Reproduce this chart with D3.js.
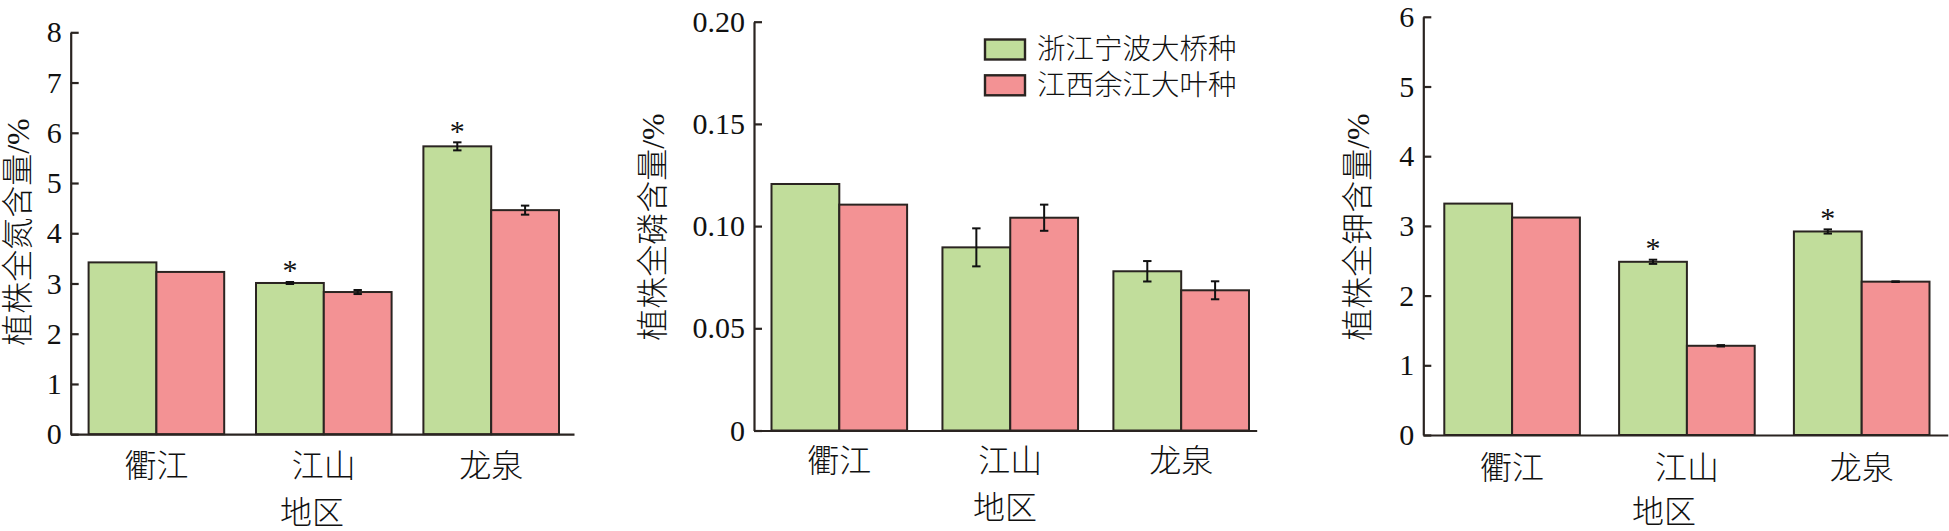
<!DOCTYPE html>
<html>
<head>
<meta charset="utf-8">
<script src="https://cdn.jsdelivr.net/npm/d3@7"></script>
<style>
  body { margin: 0; background: #fff; }
  svg { display: block; font-family: "Liberation Serif", "Noto Sans CJK SC", serif; }
  .cjk { font-weight: 300; }
</style>
</head>
<body>
<svg id="chart" width="1949" height="531"></svg>
<script>
const regions = ["衢江", "江山", "龙泉"];
const seriesNames = ["浙江宁波大桥种", "江西余江大叶种"];
const seriesColors = ["#c1dd9b", "#f39294"];

// values per series, in region order
const nitrogenValues = [[3.42, 3.01, 5.73], [3.23, 2.83, 4.46]];
const nitrogenErrors = [[0, 0.02, 0.08], [0, 0.04, 0.09]];
const nitrogenStars = [[false, true, true], [false, false, false]];
const nitrogenTicks = [0, 1, 2, 3, 4, 5, 6, 7, 8];

const phosphorusValues = [[0.1206, 0.0896, 0.0779], [0.1105, 0.1041, 0.0686]];
const phosphorusErrors = [[0, 0.0093, 0.005], [0, 0.0064, 0.0044]];
const phosphorusStars = [[false, false, false], [false, false, false]];
const phosphorusTicks = [0, 0.05, 0.10, 0.15, 0.20];

const potassiumValues = [[3.32, 2.485, 2.92], [3.12, 1.28, 2.20]];
const potassiumErrors = [[0, 0.03, 0.03], [0, 0.01, 0.005]];
const potassiumStars = [[false, true, true], [false, false, false]];
const potassiumTicks = [0, 1, 2, 3, 4, 5, 6];

const INK = "#2a2421";
const svg = d3.select("#chart");

const panels = [
  {
    values: nitrogenValues, errors: nitrogenErrors, stars: nitrogenStars, ticks: nitrogenTicks,
    yLabel: "植株全氮含量/%", fmt: (d) => d3.format("d")(d),
    x0: 70.7, x1: 574, barL: 88.6, barR: 559, y0: 434.2, y1: 32.3,
    yLabelPos: [17.5, 232], xTitlePos: [312, 513], tickLabelOffset: 28.5, legend: false
  },
  {
    values: phosphorusValues, errors: phosphorusErrors, stars: phosphorusStars, ticks: phosphorusTicks,
    yLabel: "植株全磷含量/%", fmt: (d) => (d === 0 ? "0" : d3.format(".2f")(d)),
    x0: 754, x1: 1256.7, barL: 771.5, barR: 1249, y0: 430.5, y1: 21.7,
    yLabelPos: [653, 227], xTitlePos: [1005, 508], tickLabelOffset: 27.7, legend: true
  },
  {
    values: potassiumValues, errors: potassiumErrors, stars: potassiumStars, ticks: potassiumTicks,
    yLabel: "植株全钾含量/%", fmt: (d) => d3.format("d")(d),
    x0: 1423.3, x1: 1947.8, barL: 1444.3, barR: 1929.5, y0: 435, y1: 16.8,
    yLabelPos: [1358, 227], xTitlePos: [1664, 512], tickLabelOffset: 30, legend: false
  }
];

panels.forEach(drawPanel);

function makeBand(p) {
  // group width of two bars (about 68px each)
  const groupW = 135.6;
  const span = p.barR - p.barL;
  const gap = (span - regions.length * groupW) / (regions.length - 1);
  const step = groupW + gap;
  const outer = (p.x1 - p.x0) - span;
  return d3.scaleBand()
    .domain(regions)
    .range([p.x0, p.x1])
    .paddingInner(gap / step)
    .paddingOuter(outer / 2 / step)
    .align((p.barL - p.x0) / outer);
}

function drawPanel(p) {
  const x = makeBand(p);
  const xs = d3.scaleBand().domain(seriesNames).range([0, x.bandwidth()]);
  const maxTick = d3.max(p.ticks);
  const y = d3.scaleLinear().domain([0, maxTick]).range([p.y0, p.y1]);

  const g = svg.append("g");

  const rows = [];
  seriesNames.forEach((s, si) => {
    regions.forEach((r, ri) => {
      rows.push({ series: s, si, region: r, value: p.values[si][ri], err: p.errors[si][ri], star: p.stars[si][ri] });
    });
  });

  g.selectAll(".bar")
    .data(rows)
    .join("rect")
    .attr("class", "bar")
    .attr("x", (d) => x(d.region) + xs(d.series))
    .attr("y", (d) => y(d.value))
    .attr("width", xs.bandwidth())
    .attr("height", (d) => y(0) - y(d.value))
    .attr("fill", (d) => seriesColors[d.si])
    .attr("stroke", INK)
    .attr("stroke-width", 2);

  const withErr = rows.filter((d) => d.err > 0);
  const cx = (d) => x(d.region) + xs(d.series) + xs.bandwidth() / 2;
  const eb = g.selectAll(".err").data(withErr).join("g").attr("class", "err")
    .attr("stroke", "#111").attr("stroke-width", 2);
  eb.append("line").attr("x1", cx).attr("x2", cx)
    .attr("y1", (d) => y(d.value + d.err)).attr("y2", (d) => y(d.value - d.err));
  eb.append("line").attr("x1", (d) => cx(d) - 4.2).attr("x2", (d) => cx(d) + 4.2)
    .attr("y1", (d) => y(d.value + d.err)).attr("y2", (d) => y(d.value + d.err));
  eb.append("line").attr("x1", (d) => cx(d) - 4.2).attr("x2", (d) => cx(d) + 4.2)
    .attr("y1", (d) => y(d.value - d.err)).attr("y2", (d) => y(d.value - d.err));

  g.selectAll(".star")
    .data(rows.filter((d) => d.star))
    .join("text")
    .attr("class", "star")
    .attr("x", cx)
    .attr("y", (d) => y(d.value + d.err) - 1.5)
    .attr("text-anchor", "middle")
    .attr("font-size", 30)
    .attr("fill", "#111")
    .text("*");

  // y axis
  const yAxis = g.append("g")
    .attr("transform", `translate(${p.x0},0)`)
    .call(d3.axisLeft(y).tickValues(p.ticks).tickFormat(p.fmt).tickSizeInner(-8).tickSizeOuter(0).tickPadding(9));
  yAxis.select(".domain").attr("stroke", INK).attr("stroke-width", 2.2);
  yAxis.selectAll(".tick line").attr("stroke", INK).attr("stroke-width", 2.2);
  yAxis.selectAll(".tick text")
    .attr("font-size", 30)
    .attr("fill", "#111")
    .attr("font-family", "'Liberation Serif', serif");

  // x axis
  const xAxis = g.append("g")
    .attr("transform", `translate(0,${p.y0})`)
    .call(d3.axisBottom(x).tickSize(0).tickSizeOuter(0));
  xAxis.select(".domain").attr("stroke", INK).attr("stroke-width", 2.2);
  xAxis.selectAll(".tick text")
    .attr("class", "cjk")
    .attr("dy", null)
    .attr("y", p.tickLabelOffset)
    .attr("dominant-baseline", "central")
    .attr("font-size", 32)
    .attr("fill", "#111")
    .attr("font-family", "'Noto Sans CJK SC', sans-serif");

  g.append("text")
    .attr("class", "cjk")
    .attr("x", p.xTitlePos[0])
    .attr("y", p.xTitlePos[1])
    .attr("text-anchor", "middle")
    .attr("dominant-baseline", "central")
    .attr("font-size", 32)
    .attr("fill", "#111")
    .text("地区");

  g.append("text")
    .attr("class", "cjk")
    .attr("transform", `translate(${p.yLabelPos[0]},${p.yLabelPos[1]}) rotate(-90)`)
    .attr("text-anchor", "middle")
    .attr("dominant-baseline", "central")
    .attr("font-size", 32)
    .attr("fill", "#111")
    .text(p.yLabel);

  if (p.legend) {
    const lg = g.append("g").attr("transform", "translate(985,39.5)");
    const item = lg.selectAll(".legend-item")
      .data(seriesNames)
      .join("g")
      .attr("class", "legend-item")
      .attr("transform", (d, i) => `translate(0,${i * 35.8})`);
    item.append("rect")
      .attr("width", 40)
      .attr("height", 20)
      .attr("fill", (d, i) => seriesColors[i])
      .attr("stroke", INK)
      .attr("stroke-width", 2.4);
    item.append("text")
      .attr("class", "cjk")
      .attr("x", 52)
      .attr("y", 10)
      .attr("dominant-baseline", "central")
      .attr("font-size", 28.5)
      .attr("fill", "#111")
      .text((d) => d);
  }
}
</script>
</body>
</html>
